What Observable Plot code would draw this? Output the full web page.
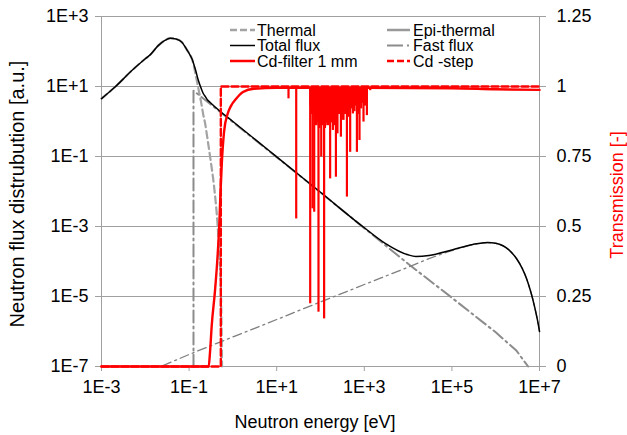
<!DOCTYPE html>
<html><head><meta charset="utf-8">
<script src="https://cdn.jsdelivr.net/npm/d3@7"></script>
<script src="https://cdn.jsdelivr.net/npm/@observablehq/plot@0.6"></script>
<style>html,body{margin:0;padding:0;background:#fff;} svg{display:block}</style>
</head><body><div id="chart"></div>
<script>
// ---- tick values / labels ----
const xTickValues = [1e-3, 1e-1, 1e1, 1e3, 1e5, 1e7];
const xTickLabels = ["1E-3", "1E-1", "1E+1", "1E+3", "1E+5", "1E+7"];
const yTickValues = [1e-7, 1e-5, 1e-3, 1e-1, 1e1, 1e3];
const yTickLabels = ["1E-7", "1E-5", "1E-3", "1E-1", "1E+1", "1E+3"];
const transTickValues = [0, 0.25, 0.5, 0.75, 1, 1.25];
const transTickLabels = ["0", "0.25", "0.5", "0.75", "1", "1.25"];

// ---- flux series (energy [eV], flux [a.u.]) ----
const thermalE = [1e-3, 2e-3, 5e-3, 1e-2, 0.0129, 0.02, 0.028, 0.037, 0.05, 0.0686, 0.089, 0.1, 0.116, 0.14, 0.163, 0.19, 0.212, 0.233, 0.26, 0.303, 0.38, 0.445, 0.494, 0.532, 0.565];
const thermalFlux = [4.5, 9.5, 29, 62, 80, 150, 208, 240, 228, 185, 112, 89, 62, 23, 8.7, 3.3, 1.5, 0.86, 0.35, 0.095, 0.0107, 1.2e-3, 1.3e-4, 1.5e-5, 1e-7];

const epiE = [0.126, 0.126, 1, 10, 100, 1000, 1e4, 1e5, 1e6, 3e6, 5.5e6];
const epiFlux = [1e-7, 7.6, 0.96, 0.096, 0.0094, 9.0e-4, 8.6e-5, 9.2e-6, 9.5e-7, 2.8e-7, 1e-7];

const fastE = [0.025, 0.1, 1, 10, 100, 1000, 1e4, 3e4, 1e5, 3e5, 6.5e5, 1e6, 2e6, 3e6, 4e6, 5e6, 6e6, 7e6, 8e6, 9e6, 1e7];
const fastFlux = [1.05e-7, 2.2e-7, 7.0e-7, 2.2e-6, 7.0e-6, 2.2e-5, 6.9e-5, 1.2e-4, 2.05e-4, 3.04e-4, 3.45e-4, 3.3e-4, 2.15e-4, 1.2e-4, 6.5e-5, 3.4e-5, 1.7e-5, 8.5e-6, 4.2e-6, 2.1e-6, 1.0e-6];

const totalE = [1e-3, 2e-3, 5e-3, 1e-2, 0.0129, 0.02, 0.028, 0.037, 0.05, 0.0686, 0.089, 0.1, 0.116, 0.14, 0.163, 0.19, 0.212, 0.233, 0.26, 0.303, 0.5, 1, 10, 100, 1000, 3000, 1e4, 1.5e4, 3e4, 1e5, 3e5, 6.5e5, 1e6, 2e6, 3e6, 4e6, 5e6, 6e6, 7e6, 8e6, 9e6, 1e7];
const totalFlux = [4.5, 9.5, 29, 62, 80, 150, 208, 240, 228, 185, 112, 89, 62, 30, 14.8, 8.6, 6.2, 5.2, 4.2, 3.5, 2.0, 1.0, 0.098, 0.0095, 9.2e-4, 3.3e-4, 1.55e-4, 1.4e-4, 1.49e-4, 2.14e-4, 3.07e-4, 3.5e-4, 3.3e-4, 2.15e-4, 1.2e-4, 6.5e-5, 3.4e-5, 1.7e-5, 8.5e-6, 4.2e-6, 2.1e-6, 1.0e-6];

// ---- transmission series (energy [eV], transmission [-]) ----
const cdFilterE = [1e-3, 0.28, 0.3, 0.33, 0.39, 0.445, 0.49, 0.52, 0.56, 0.63, 0.75, 0.9, 1.2, 1.7, 3, 10, 1000, 1e5, 1e6, 1e7];
const cdFilterT = [0, 0, 0.05, 0.15, 0.27, 0.39, 0.51, 0.62, 0.73, 0.84, 0.9, 0.93, 0.957, 0.98, 0.992, 0.995, 0.995, 0.994, 0.99, 0.988];
const plateauT = 0.995;
// resolved Cd resonance dips
const dipE = [18.6, 27.9, 58.2, 61.4, 65.7, 68.1, 71.8, 77.6, 83.2, 90, 96.8, 104, 112, 121, 130, 140, 152, 166, 178, 192, 208, 225, 244, 266, 292, 313, 335, 365, 401, 436, 476, 510, 549, 597, 637, 678, 726, 777, 849, 896, 959, 1038, 1146, 1365];
const dipT = [0.956, 0.527, 0.224, 0.95, 0.563, 0.9, 0.551, 0.9, 0.88, 0.194, 0.86, 0.748, 0.9, 0.170, 0.86, 0.879, 0.88, 0.670, 0.9, 0.843, 0.87, 0.676, 0.831, 0.9, 0.819, 0.88, 0.879, 0.9, 0.605, 0.89, 0.765, 0.92, 0.902, 0.91, 0.93, 0.765, 0.9, 0.807, 0.92, 0.94, 0.873, 0.93, 0.896, 0.985];
// dense unresolved dips forming the solid red block
const denseE = [59.8, 63.5, 74.5, 80.3, 86.5, 93.3, 100, 108, 116, 125, 135, 146, 159, 172, 185, 200, 216, 234, 255, 279, 302, 324, 350, 383, 418, 456, 493, 529, 573, 617, 657, 702, 751, 812, 872, 927, 998, 1090];
const denseT = [0.93, 0.9, 0.88, 0.86, 0.87, 0.85, 0.88, 0.86, 0.89, 0.85, 0.87, 0.86, 0.88, 0.87, 0.9, 0.86, 0.9, 0.88, 0.9, 0.91, 0.92, 0.9, 0.93, 0.92, 0.93, 0.92, 0.94, 0.93, 0.94, 0.95, 0.94, 0.93, 0.95, 0.94, 0.95, 0.95, 0.95, 0.96];

const cdStepE = [1e-3, 0.53, 0.53, 1e7];
const cdStepT = [0, 0, 1, 1];

// ---- build tables ----
const zip = (xs, ys, k) => xs.map((x, i) => ({E: x, [k]: ys[i]}));
const thermal = zip(thermalE, thermalFlux, "phi");
const epi = zip(epiE, epiFlux, "phi");
const fast = zip(fastE, fastFlux, "phi");
const total = zip(totalE, totalFlux, "phi");
const cdFilter = zip(cdFilterE, cdFilterT, "t");
const dips = zip(dipE, dipT, "t");
const dense = zip(denseE, denseT, "t");
const cdStep = zip(cdStepE, cdStepT, "t");

// transmission (0..1.25) mapped onto the log flux axis (1e-7..1e3)
const tr = t => Math.pow(10, 8 * t - 7);
const near = (a, b) => Math.abs(a - b) < 1e-6;
const fmtX = d => xTickLabels[xTickValues.findIndex(v => near(Math.log10(v), Math.log10(d)))];
const fmtY = d => yTickLabels[yTickValues.findIndex(v => near(Math.log10(v), Math.log10(d)))];
const fmtT = d => { const t = (Math.log10(d) + 7) / 8; return transTickLabels[transTickValues.findIndex(v => near(v, t))]; };

const font = "'Liberation Sans', Arial, sans-serif";
const grid = "#a0a0a0";
const red = "#ff0000";

const svg = Plot.plot({
  width: 627, height: 435,
  marginLeft: 101, marginRight: 88, marginTop: 16, marginBottom: 69,
  style: {fontFamily: font, fontSize: "18px", background: "#fff", color: "black"},
  x: {type: "log", domain: [1e-3, 1e7]},
  y: {type: "log", domain: [1e-7, 1e3]},
  marks: [
    Plot.gridY(yTickValues, {stroke: grid, strokeOpacity: 1}),
    Plot.frame({stroke: grid}),
    Plot.axisY({anchor: "left", ticks: yTickValues, tickFormat: fmtY, tickSize: 6, tickPadding: 7, stroke: grid, fill: "black", fontSize: 18, label: null}),
    Plot.axisY({anchor: "right", ticks: transTickValues.map(tr), tickFormat: fmtT, tickSize: 6, tickPadding: 11, stroke: grid, fill: "black", fontSize: 18, label: null}),
    Plot.axisX({anchor: "bottom", ticks: xTickValues, tickFormat: fmtX, tickSize: 5, tickPadding: 9, stroke: grid, fill: "black", fontSize: 18, label: null}),
    Plot.line(thermal, {x: "E", y: "phi", stroke: "#a3a3a3", strokeWidth: 2.2, strokeDasharray: "7,4", curve: "monotone-x"}),
    Plot.line(epi, {x: "E", y: "phi", stroke: "#8c8c8c", strokeWidth: 2, strokeDasharray: "12,4,2,4"}),
    Plot.line(fast, {x: "E", y: "phi", stroke: "#7f7f7f", strokeWidth: 1.3, strokeDasharray: "9,4,2,4", curve: "monotone-x"}),
    Plot.line(total, {x: "E", y: "phi", stroke: "black", strokeWidth: 1.5, curve: "monotone-x"}),
    Plot.ruleX(dense, {x: "E", y1: d => tr(d.t), y2: () => tr(plateauT), stroke: red, strokeWidth: 2.6}),
    Plot.ruleX(dips, {x: "E", y1: d => tr(d.t), y2: () => tr(plateauT), stroke: red, strokeWidth: 2.2}),
    Plot.line(cdFilter, {x: "E", y: d => tr(d.t), stroke: red, strokeWidth: 2.4, curve: "monotone-x"}),
    Plot.line(cdStep, {x: "E", y: d => tr(d.t), stroke: red, strokeWidth: 2.4, strokeDasharray: "7,3"})
  ]
});
document.getElementById("chart").appendChild(svg);

// ---- titles ----
const s = d3.select(svg);
s.append("text").attr("x", 315).attr("y", 428).attr("text-anchor", "middle")
  .attr("font-family", font).attr("font-size", 18).attr("fill", "black").text("Neutron energy [eV]");
s.append("text").attr("transform", "translate(24,194) rotate(-90)").attr("text-anchor", "middle")
  .attr("font-family", font).attr("font-size", 20).attr("fill", "black").text("Neutron flux distrubution [a.u.]");
s.append("text").attr("transform", "translate(623,195) rotate(-90)").attr("text-anchor", "middle")
  .attr("font-family", font).attr("font-size", 18).attr("fill", red).text("Transmission [-]");

// ---- legend ----
const legendItems = [
  {label: "Thermal", col: 0, row: 0, stroke: "#a3a3a3", w: 2.5, dash: "7,3"},
  {label: "Total flux", col: 0, row: 1, stroke: "black", w: 1.5, dash: null},
  {label: "Cd-filter 1 mm", col: 0, row: 2, stroke: red, w: 2.5, dash: null},
  {label: "Epi-thermal", col: 1, row: 0, stroke: "#999", w: 2.5, dash: null},
  {label: "Fast flux", col: 1, row: 1, stroke: "#8c8c8c", w: 1.8, dash: "16,4,2,20"},
  {label: "Cd -step", col: 1, row: 2, stroke: red, w: 2.5, dash: "7,3"}
];
const colX = [[230, 255, 257], [387, 410, 413]];
const rowY = [30, 45.5, 61];
const lg = s.append("g").attr("text-anchor", "start");
for (const it of legendItems) {
  const [x1, x2, tx] = colX[it.col];
  const y = rowY[it.row];
  const ln = lg.append("line").attr("x1", x1).attr("x2", x2).attr("y1", y).attr("y2", y)
    .attr("stroke", it.stroke).attr("stroke-width", it.w);
  if (it.dash) ln.attr("stroke-dasharray", it.dash);
  lg.append("text").attr("x", tx).attr("y", y).attr("dy", "0.35em").attr("text-anchor", "start")
    .attr("font-family", font).attr("font-size", 16).attr("fill", "black").text(it.label);
}
</script>
</body></html>
